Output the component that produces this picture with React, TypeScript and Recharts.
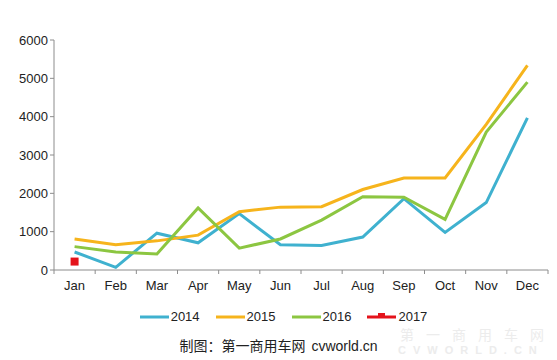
import React from 'react';
import { LineChart, Line, XAxis, YAxis, Legend } from 'recharts';

const months = ['Jan', 'Feb', 'Mar', 'Apr', 'May', 'Jun', 'Jul', 'Aug', 'Sep', 'Oct', 'Nov', 'Dec'];
const s2014 = [470, 70, 960, 710, 1470, 660, 640, 860, 1860, 980, 1760, 3970];
const s2015 = [810, 660, 760, 910, 1520, 1640, 1650, 2100, 2400, 2400, 3800, 5340];
const s2016 = [610, 470, 420, 1620, 570, 810, 1300, 1910, 1900, 1320, 3600, 4900];
const s2017: (number | null)[] = [220, null, null, null, null, null, null, null, null, null, null, null];
const yTicks = [0, 1000, 2000, 3000, 4000, 5000, 6000];

const series = [
  { key: 'y2014', name: '2014', color: '#3fb1cf' },
  { key: 'y2015', name: '2015', color: '#f6b41c' },
  { key: 'y2016', name: '2016', color: '#8cc641' },
  { key: 'y2017', name: '2017', color: '#e4131b' },
];

const data = months.map((m, i) => ({
  month: m,
  y2014: s2014[i],
  y2015: s2015[i],
  y2016: s2016[i],
  y2017: s2017[i],
}));

const W = 557;
const H = 360;
const MARGIN = { top: 25, right: 9, left: 0, bottom: 60 };
const YW = 54;
const PLOT_W = W - MARGIN.left - MARGIN.right - YW;
const BAND = PLOT_W / months.length;
const FONT = 'Liberation Sans, Arial, sans-serif';
const AXIS_COLOR = '#8c8c8c';

const XTick = (props: any) => {
  const { x, y, payload, index } = props;
  const last = index === months.length - 1;
  return (
    <g>
      <line x1={x - BAND / 2} y1={y - 8} x2={x - BAND / 2} y2={y - 4} stroke={AXIS_COLOR} />
      {last && <line x1={x + BAND / 2} y1={y - 8} x2={x + BAND / 2} y2={y - 4} stroke={AXIS_COLOR} />}
      <text x={x} y={y + 12} textAnchor="middle" fill="#222" fontSize={13} fontFamily={FONT}>
        {payload.value}
      </text>
    </g>
  );
};

const SquareDot = (props: any) => {
  const { cx, cy, value } = props;
  if (value == null || cx == null || cy == null) return <g />;
  return <rect x={cx - 4} y={cy - 4} width={8} height={8} fill="#e4131b" />;
};

const LegendContent = () => (
  <div style={{ display: 'flex', justifyContent: 'center', fontFamily: FONT, fontSize: 13, color: '#222', paddingLeft: 26 }}>
    {series.map((s) => (
      <div key={s.key} style={{ display: 'flex', alignItems: 'center', marginRight: 16 }}>
        <svg width={29} height={12} style={{ marginRight: 2 }}>
          <line x1={0} y1={6} x2={29} y2={6} stroke={s.color} strokeWidth={3} />
          {s.key === 'y2017' && <rect x={11} y={2} width={7} height={5} fill={s.color} />}
        </svg>
        <span>{s.name}</span>
      </div>
    ))}
  </div>
);

export default function App() {
  return (
    <div style={{ position: 'absolute', left: 0, top: 0, width: W, height: H, background: '#fff', overflow: 'hidden' }}>
      <LineChart width={W} height={H} data={data} margin={MARGIN}>
        <YAxis
          width={YW}
          domain={[0, 6000]}
          ticks={yTicks}
          interval={0}
          axisLine={{ stroke: AXIS_COLOR }}
          tickLine={{ stroke: AXIS_COLOR }}
          tickSize={4}
          tick={{ fill: '#222', fontSize: 13, fontFamily: FONT }}
        />
        <XAxis
          dataKey="month"
          height={30}
          interval={0}
          padding={{ left: BAND / 2, right: BAND / 2 }}
          axisLine={{ stroke: AXIS_COLOR }}
          tickLine={false}
          tick={<XTick />}
        />
        <Legend verticalAlign="top" wrapperStyle={{ top: 309, left: 0, width: W }} content={<LegendContent />} />
        {series.slice(0, 3).map((s) => (
          <Line
            key={s.key}
            type="linear"
            dataKey={s.key}
            name={s.name}
            stroke={s.color}
            strokeWidth={3}
            dot={false}
            activeDot={false}
            isAnimationActive={false}
          />
        ))}
        <Line
          type="linear"
          dataKey="y2017"
          name="2017"
          stroke="#e4131b"
          strokeWidth={3}
          dot={<SquareDot />}
          activeDot={false}
          isAnimationActive={false}
        />
      </LineChart>
      <div style={{ position: 'absolute', left: 400, top: 327, fontFamily: 'Noto Sans CJK SC, sans-serif', fontSize: 14, lineHeight: '15px', color: '#ececec', letterSpacing: 12, whiteSpace: 'nowrap' }}>
        第一商用车网
      </div>
      <div style={{ position: 'absolute', left: 398, top: 344, fontFamily: FONT, fontSize: 11, lineHeight: '12px', fontWeight: 'bold', color: '#ececec', letterSpacing: 7, whiteSpace: 'nowrap' }}>
        CVWORLD.CN
      </div>
      <div style={{ position: 'absolute', left: 0, width: W, top: 335, textAlign: 'center', fontSize: 14, color: '#222', whiteSpace: 'nowrap', paddingLeft: 0 }}>
        <span style={{ fontFamily: 'Noto Sans CJK SC, serif' }}>制图：第一商用车网</span>
        <span style={{ fontFamily: FONT, marginLeft: 6 }}>cvworld.cn</span>
      </div>
    </div>
  );
}
